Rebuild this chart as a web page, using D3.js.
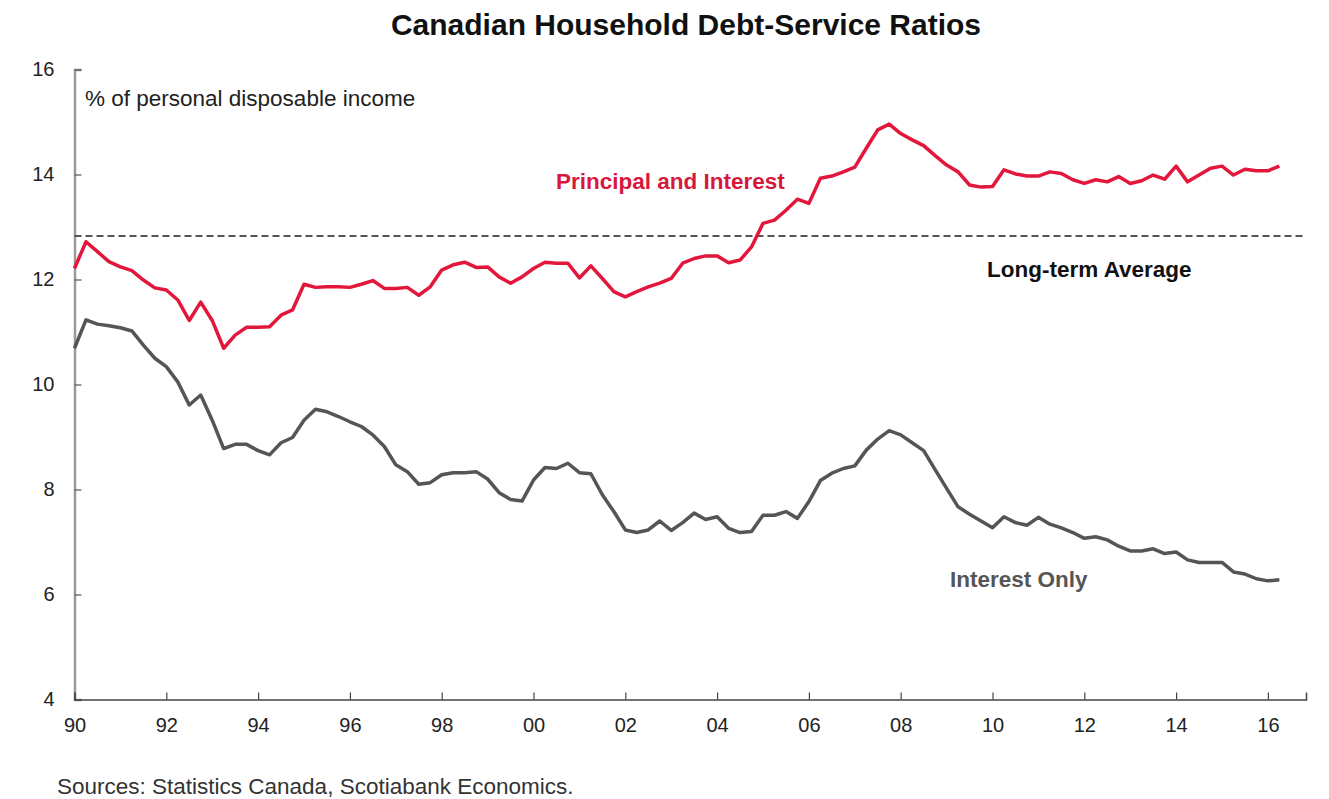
<!DOCTYPE html>
<html>
<head>
<meta charset="utf-8">
<script src="https://cdn.jsdelivr.net/npm/d3@7"></script>
<style>
  body { margin: 0; background: #fff; }
  svg { font-family: "Liberation Sans", Arial, sans-serif; }
</style>
</head>
<body>
<div id="chart"></div>
<script>
// quarterly, 1990Q1 .. 2016Q2
const startYear = 1990
const principalInterest = [
  12.21, 12.72, 12.53, 12.34, 12.24, 12.17, 11.99, 11.84, 11.80, 11.61, 11.22, 11.57,
  11.22, 10.69, 10.94, 11.09, 11.09, 11.10, 11.32, 11.42, 11.91, 11.85, 11.86, 11.86,
  11.85, 11.91, 11.98, 11.83, 11.83, 11.85, 11.70, 11.86, 12.18, 12.28, 12.33, 12.23,
  12.24, 12.05, 11.93, 12.05, 12.21, 12.33, 12.31, 12.31, 12.03, 12.26, 12.02, 11.77,
  11.67, 11.77, 11.86, 11.93, 12.02, 12.31, 12.40, 12.45, 12.45, 12.32, 12.37, 12.62,
  13.07, 13.13, 13.32, 13.53, 13.45, 13.93, 13.97, 14.05, 14.14, 14.50, 14.85, 14.96,
  14.78, 14.66, 14.55, 14.36, 14.18, 14.05, 13.80, 13.76, 13.77, 14.09, 14.01, 13.97,
  13.97, 14.05, 14.02, 13.90, 13.83, 13.90, 13.86, 13.96, 13.83, 13.88, 13.99, 13.91,
  14.16, 13.86, 13.99, 14.12, 14.16, 13.99, 14.10, 14.07, 14.07, 14.16
]
const interestOnly = [
  10.69, 11.23, 11.15, 11.12, 11.08, 11.02, 10.75, 10.50, 10.34, 10.05, 9.61, 9.80,
  9.32, 8.78, 8.86, 8.86, 8.74, 8.66, 8.89, 8.99, 9.32, 9.53, 9.48, 9.39,
  9.29, 9.20, 9.04, 8.82, 8.47, 8.34, 8.10, 8.13, 8.28, 8.32, 8.32, 8.34,
  8.20, 7.94, 7.81, 7.78, 8.18, 8.42, 8.40, 8.50, 8.32, 8.30, 7.90, 7.58,
  7.23, 7.18, 7.23, 7.40, 7.22, 7.37, 7.55, 7.43, 7.48, 7.26, 7.18, 7.20,
  7.51, 7.51, 7.58, 7.45, 7.77, 8.17, 8.31, 8.40, 8.45, 8.75, 8.96, 9.12,
  9.04, 8.89, 8.74, 8.38, 8.02, 7.67, 7.53, 7.40, 7.27, 7.48, 7.37, 7.32,
  7.47, 7.34, 7.27, 7.18, 7.07, 7.10, 7.04, 6.92, 6.83, 6.83, 6.87, 6.78,
  6.81, 6.66, 6.61, 6.61, 6.61, 6.43, 6.39, 6.30, 6.26, 6.28
]
const longTermAverage = 12.83
const xTicks = [1990, 1992, 1994, 1996, 1998, 2000, 2002, 2004, 2006, 2008, 2010, 2012, 2014, 2016]
const yTicks = [4, 6, 8, 10, 12, 14, 16]

let dimensions = {
  width: 1329, height: 799,
  margin: { top: 69.5, right: 23, bottom: 99.5, left: 74.5 }
}
dimensions.boundedWidth = dimensions.width - dimensions.margin.left - dimensions.margin.right
dimensions.boundedHeight = dimensions.height - dimensions.margin.top - dimensions.margin.bottom

const svg = d3.select("#chart").append("svg")
  .attr("width", dimensions.width)
  .attr("height", dimensions.height)

const g = svg.append("g")
  .attr("transform", `translate(${dimensions.margin.left},${dimensions.margin.top})`)

const xScale = d3.scaleLinear().domain([1990, 2016.83]).range([0, dimensions.boundedWidth])
const yScale = d3.scaleLinear().domain([4, 16]).range([dimensions.boundedHeight, 0])

const toPoints = arr => arr.map((v, i) => ({ t: startYear + i / 4, v: v }))

// title
svg.append("text")
  .attr("x", 686).attr("y", 35)
  .attr("text-anchor", "middle")
  .style("font-size", "30px").style("font-weight", "bold").style("fill", "#111")
  .text("Canadian Household Debt-Service Ratios")

// axes
const yAxis = g.append("g")
  .call(d3.axisLeft(yScale).tickValues(yTicks).tickSize(-7).tickPadding(20).tickFormat(d3.format("d")))
yAxis.select(".domain").attr("stroke", "#999").attr("stroke-width", 2.5)
yAxis.selectAll(".tick line").attr("stroke", "#555").attr("stroke-width", 1.2)
yAxis.selectAll(".tick text").style("font-size", "20px").style("fill", "#222")

const xAxis = g.append("g")
  .attr("transform", `translate(0,${dimensions.boundedHeight})`)
  .call(d3.axisBottom(xScale).tickValues(xTicks).tickSize(-7).tickPadding(18)
    .tickFormat(d => String(d % 100).padStart(2, "0")))
xAxis.select(".domain").attr("stroke", "#444").attr("stroke-width", 1.5)
xAxis.selectAll(".tick line").attr("stroke", "#444").attr("stroke-width", 1.2)
xAxis.selectAll(".tick text").style("font-size", "20px").style("fill", "#222")

// long-term average
g.append("line")
  .attr("x1", 0).attr("x2", dimensions.boundedWidth)
  .attr("y1", yScale(longTermAverage)).attr("y2", yScale(longTermAverage))
  .attr("stroke", "#555").attr("stroke-width", 2).attr("stroke-dasharray", "7,4")

const line = d3.line().x(d => xScale(d.t)).y(d => yScale(d.v))

g.append("path")
  .attr("d", line(toPoints(interestOnly)))
  .style("fill", "none").attr("stroke", "#555555").attr("stroke-width", 3.5)
  .attr("stroke-linejoin", "round")

g.append("path")
  .attr("d", line(toPoints(principalInterest)))
  .style("fill", "none").attr("stroke", "#e3173b").attr("stroke-width", 3.5)
  .attr("stroke-linejoin", "round")

// labels
svg.append("text").attr("x", 85).attr("y", 106)
  .style("font-size", "22.5px").style("fill", "#222")
  .text("% of personal disposable income")

svg.append("text").attr("x", 556).attr("y", 189)
  .style("font-size", "22.5px").style("font-weight", "bold").style("fill", "#d8173d")
  .text("Principal and Interest")

svg.append("text").attr("x", 987).attr("y", 277)
  .style("font-size", "22.5px").style("font-weight", "bold").style("fill", "#111")
  .text("Long-term Average")

svg.append("text").attr("x", 950).attr("y", 587)
  .style("font-size", "22.5px").style("font-weight", "bold").style("fill", "#555")
  .text("Interest Only")

svg.append("text").attr("x", 57).attr("y", 794)
  .style("font-size", "22.5px").style("fill", "#333")
  .text("Sources: Statistics Canada, Scotiabank Economics.")
</script>
</body>
</html>
